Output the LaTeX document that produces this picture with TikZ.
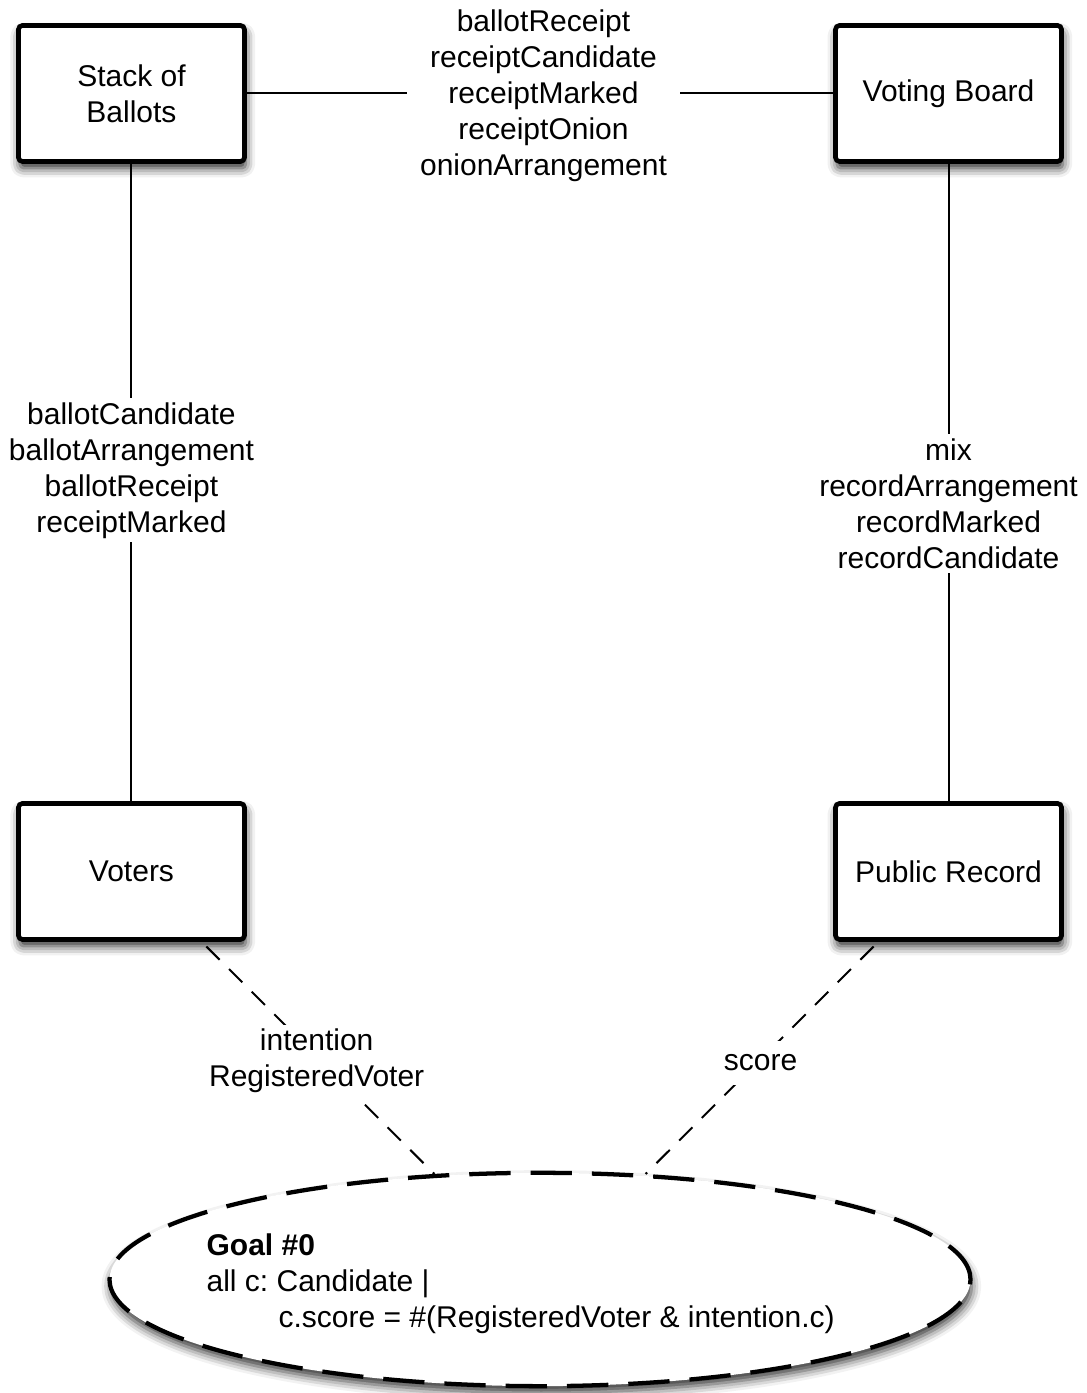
\documentclass[tikz,border=0pt]{standalone}
\usepackage{fontspec}
\setmainfont{Liberation Sans}
\usetikzlibrary{positioning,shapes.geometric,shadows.blur,calc}

\begin{document}
\frenchspacing
\begin{tikzpicture}[
	font=\fontsize{22.5}{27}\selectfont,
	node distance=478pt and 439.8pt,
	sigbox/.style={draw, line width=3.5pt, rounded corners=3pt, fill=white, align=center,
		minimum width=169.5pt, minimum height=102pt,
		blur shadow={shadow xshift=1pt, shadow yshift=-5pt, shadow blur radius=7pt, shadow opacity=85}},
	goalshape/.style={draw, ellipse, line width=3.2pt, dash pattern=on 31pt off 15pt, fill=white,
		minimum width=645.75pt, minimum height=160pt, inner sep=0pt,
		blur shadow={shadow xshift=1pt, shadow yshift=-5pt, shadow blur radius=7pt, shadow opacity=80}},
	rel/.style={line width=1.5pt},
	facts/.style={line width=1.5pt, dash pattern=on 14pt off 10pt, shorten <=5pt},
	lbl/.style={fill=white, align=center, inner xsep=10pt, inner ysep=3pt}
	]
	\useasboundingbox (0,0) rectangle (814.5pt,-1044.75pt);
	
	\node[sigbox] (stack) at (98.6pt,-70.1pt) {Stack of\\Ballots};
	\node[sigbox, right = of stack] (board) {Voting Board};
	\node[sigbox, below = of stack] (voters) {Voters};
	\node[sigbox, below = of board] (record) {Public Record};
	
	\node[goalshape] (goal) at ($(voters)!0.5!(record)+(0,-306pt)$) {};
	\node[align=left, xshift=-14.5pt, yshift=-3pt] (goaltext) at (goal)
		{\textbf{Goal \#0}\\all c: Candidate |\\\hspace*{54pt}c.score = \#(RegisteredVoter \& intention.c)};
	
	\draw[rel] (stack) -- node[lbl, pos=0.506, yshift=-2pt] {ballotReceipt\\receiptCandidate\\receiptMarked\\receiptOnion\\onionArrangement} (board);
	\draw[rel] (stack) -- node[lbl, pos=0.481] {ballotCandidate\\ballotArrangement\\ballotReceipt\\receiptMarked} (voters);
	\draw[rel] (board) -- node[lbl, pos=0.533] {mix\\recordArrangement\\recordMarked\\recordCandidate} (record);
	\draw[facts] (voters) -- node[lbl, xshift=-1pt, yshift=-2pt] {intention\\RegisteredVoter} (goal);
	\draw[facts] (record) -- node[lbl, xshift=-1pt, yshift=-4pt] {\strut score} (goal);
\end{tikzpicture}
\end{document}
